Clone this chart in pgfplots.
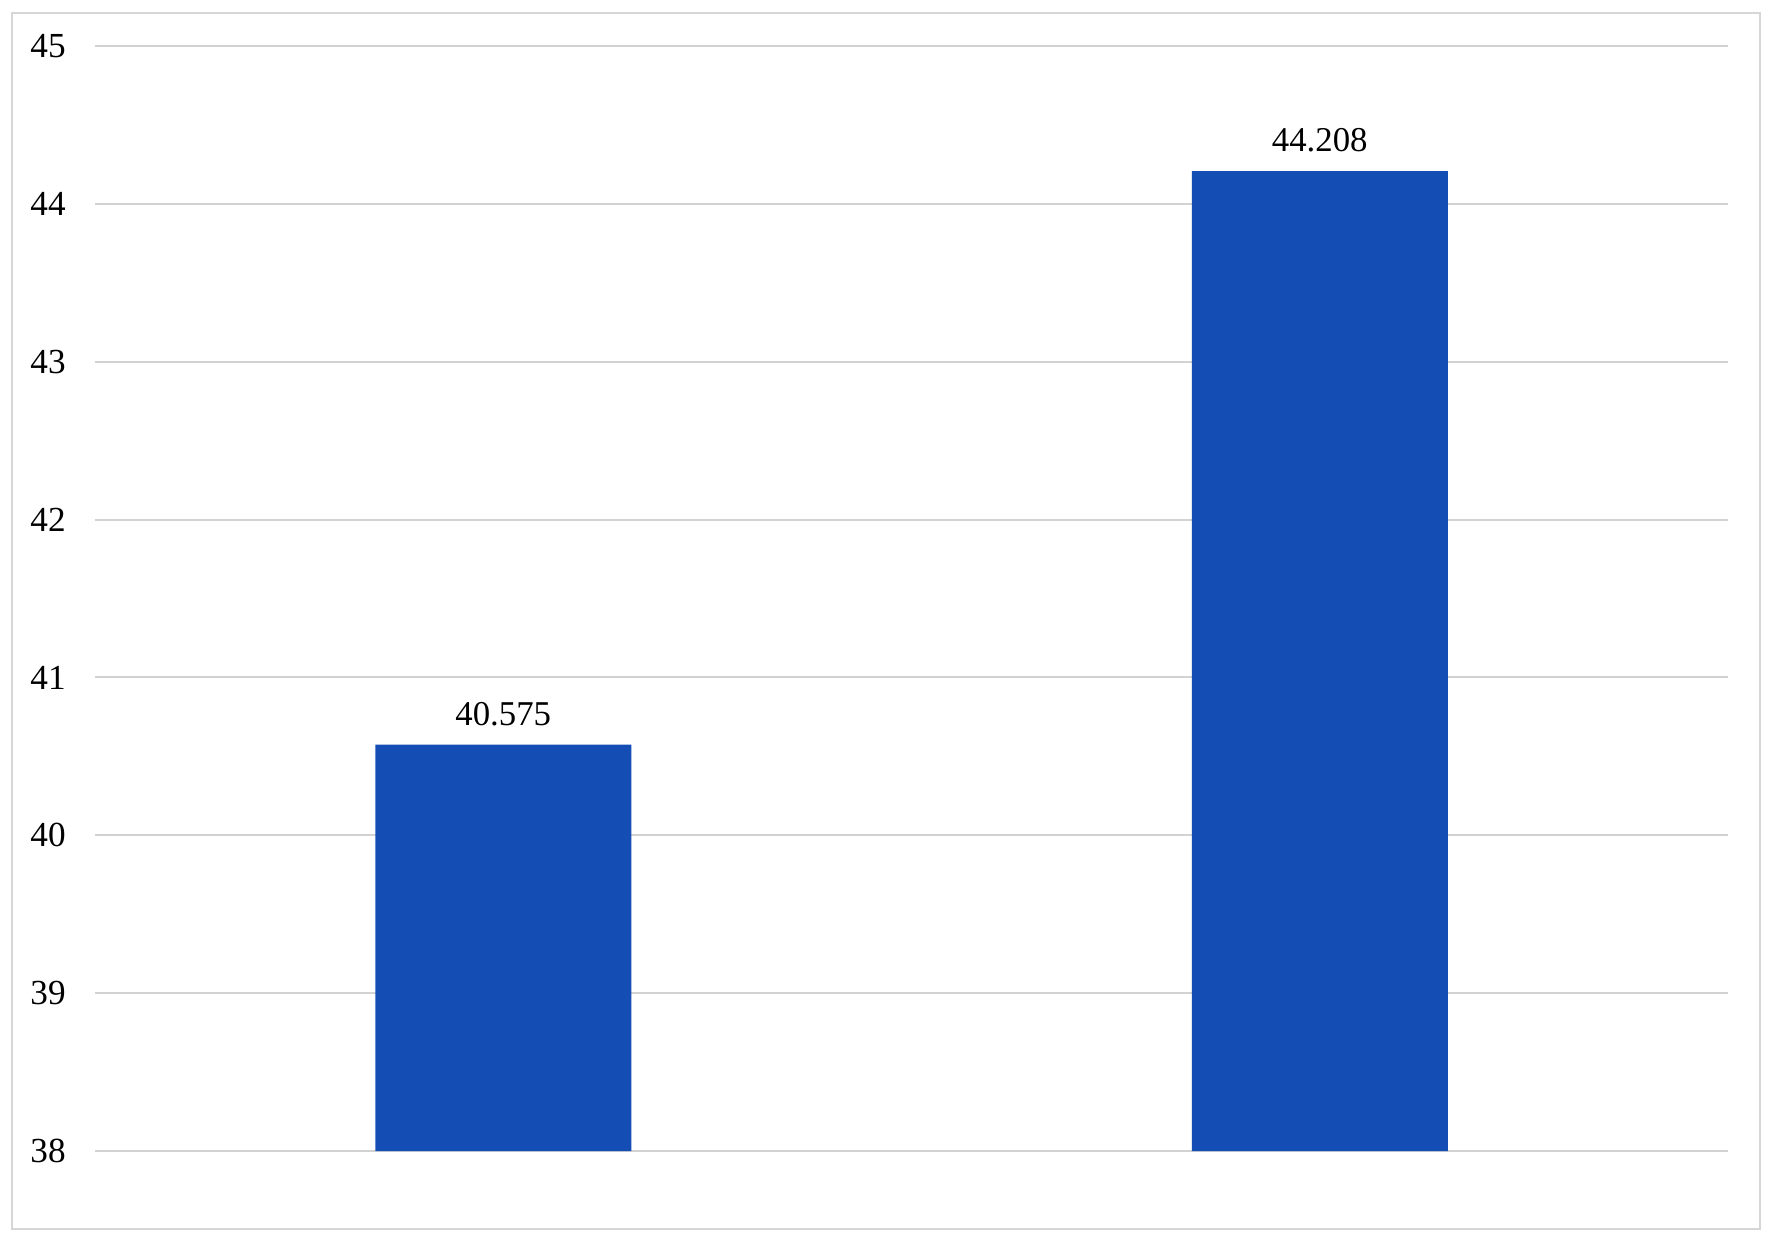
\documentclass[border=0pt]{standalone}
\usepackage{pgfplots}
\pgfplotsset{compat=1.18}
\usepackage{fontspec}
\setmainfont{Liberation Serif}
\definecolor{barblue}{RGB}{20,77,179}
\definecolor{gridgray}{RGB}{210,210,210}
\definecolor{bordergray}{RGB}{214,214,214}
\begin{document}
\begin{tikzpicture}[x=0.25pt,y=0.25pt]
\path (0,0) rectangle (1772,1240);
\draw[bordergray, line width=0.55pt] (12,11) rectangle (1760,1227);
\begin{axis}[
  at={(23.75pt,22.25pt)}, anchor=south west,
  scale only axis, width=408.25pt, height=276.25pt,
  xmin=-0.5, xmax=1.5, ymin=38, ymax=45,
  ytick={38,39,...,45},
  xtick=\empty,
  axis line style={draw=none},
  major tick length=0pt,
  ymajorgrids, grid style={gridgray, line width=0.5pt},
  yticklabel style={font=\fontsize{8.8}{10}\selectfont, xshift=-3.8pt},
  /pgf/number format/assume math mode=true,
  ybar, bar width=64pt,
  nodes near coords,
  nodes near coords style={font=\fontsize{8.7}{10}\selectfont, yshift=1.1pt, /pgf/number format/.cd, fixed, precision=3, fixed zerofill, assume math mode=true},
  clip=false,
]
\addplot[fill=barblue, draw=none] coordinates {(0,40.575) (1,44.208)};
\end{axis}
\end{tikzpicture}
\end{document}
